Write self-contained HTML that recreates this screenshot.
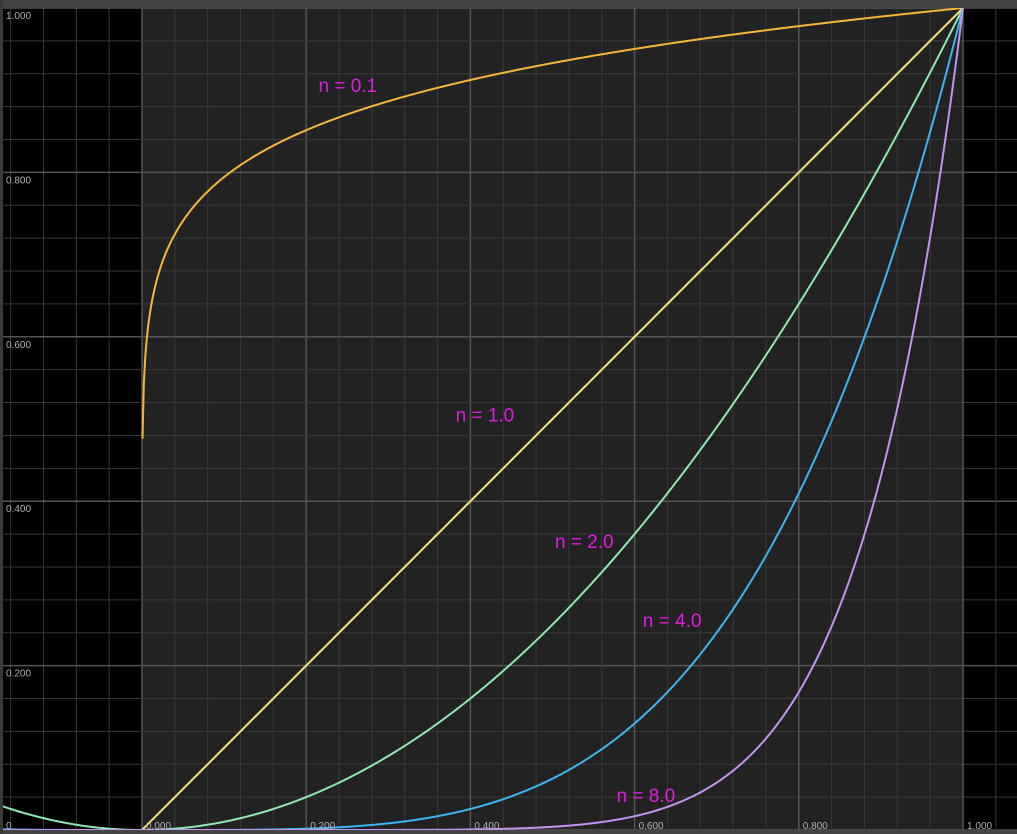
<!DOCTYPE html>
<html><head><meta charset="utf-8">
<style>
html,body{margin:0;padding:0;background:#000;}
svg{display:block;}
.tick{font-family:"Liberation Sans",sans-serif;font-size:10px;fill:#b0b0b0;}
.lbl{font-family:"Liberation Sans",sans-serif;font-size:19px;fill:#e01ce0;}
</style></head>
<body>
<svg id="chart" width="1017" height="834" viewBox="0 0 1017 834">
  <rect x="0" y="0" width="1017" height="834" fill="#000"/>
  <rect x="142" y="8" width="821" height="822" fill="#222"/>
  <g id="grid"></g>
  <g id="series"></g>
  <g id="ticks"></g>
  <g id="labels"></g>
  <rect x="0" y="0" width="1017" height="8" fill="#444"/>
  <rect x="0" y="830" width="1017" height="4" fill="#444"/>
  <rect x="0" y="0" width="3" height="834" fill="#3a3a3a"/>
</svg>
<script>
const exponents = [0.1, 1.0, 2.0, 4.0, 8.0];
const seriesColors = ["#f7b538", "#f4e47a", "#8ee8b0", "#3cb6f2", "#c194f2"];
const labelText = ["n = 0.1", "n = 1.0", "n = 2.0", "n = 4.0", "n = 8.0"];
const labelAt = [[0.215, 0.898], [0.382, 0.497], [0.503, 0.343], [0.61, 0.247], [0.578, 0.034]];
const xTickValues = [0, 0.2, 0.4, 0.6, 0.8, 1.0];
const xTickLabels = ["0.000", "0.200", "0.400", "0.600", "0.800", "1.000"];
const yTickValues = [0, 0.2, 0.4, 0.6, 0.8, 1.0];
const yTickLabels = ["0", "0.200", "0.400", "0.600", "0.800", "1.000"];

const NS = "http://www.w3.org/2000/svg";
const X0 = 142, XS = 821, Y0 = 830, YS = 822;
const sx = v => X0 + v * XS;
const sy = v => Y0 - v * YS;

const grid = document.getElementById('grid');
for (let k = -5; k <= 26; k++) {
  const v = k * 0.04;
  const major = k % 5 === 0;
  const xx = sx(v);
  if (xx >= 0 && xx <= 1017) {
    const l = document.createElementNS(NS, 'line');
    
    
    l.setAttribute('x1', xx); l.setAttribute('x2', xx);
    l.setAttribute('y1', 8); l.setAttribute('y2', 830);
    l.setAttribute('stroke', major ? '#555' : '#383838');
    l.setAttribute('stroke-width', major ? 1.5 : 1);
    grid.appendChild(l);
  }
  const yy = sy(v);
  if (k >= 0 && yy >= 8) {
    const h = document.createElementNS(NS, 'line');
    
    
    h.setAttribute('x1', 0); h.setAttribute('x2', 1017);
    h.setAttribute('y1', yy); h.setAttribute('y2', yy);
    h.setAttribute('stroke', major ? '#555' : '#383838');
    h.setAttribute('stroke-width', major ? 1.5 : 1);
    grid.appendChild(h);
  }
}

const series = document.getElementById('series');
exponents.forEach((n, i) => {
  const pts = [];
  const xmin = (n === 2 || n === 4 || n === 8) ? -0.175 : 0.0006;
  const N = 600;
  for (let j = 0; j <= N; j++) {
    const x = xmin + (1 - xmin) * j / N;
    const y = x < 0 ? Math.pow(-x, n) : Math.pow(x, n);
    pts.push(sx(x).toFixed(2) + ',' + sy(y).toFixed(2));
  }
  const p = document.createElementNS(NS, 'polyline');
  
  
  p.setAttribute('points', pts.join(' '));
  p.setAttribute('fill', 'none');
  p.setAttribute('stroke', seriesColors[i]);
  p.setAttribute('stroke-width', 2);
  series.appendChild(p);

  const t = document.createElementNS(NS, 'text');
  
  
  t.setAttribute('class', 'lbl');
  t.setAttribute('x', sx(labelAt[i][0]));
  t.setAttribute('y', sy(labelAt[i][1]));
  t.textContent = labelText[i];
  document.getElementById('labels').appendChild(t);
});

const ticks = document.getElementById('ticks');
xTickValues.forEach((v, i) => {
  const t = document.createElementNS(NS, 'text');
  
  
  t.setAttribute('class', 'tick');
  t.setAttribute('x', sx(v) + 4);
  t.setAttribute('y', 829);
  t.textContent = xTickLabels[i];
  ticks.appendChild(t);
});
yTickValues.forEach((v, i) => {
  const t = document.createElementNS(NS, 'text');
  
  
  t.setAttribute('class', 'tick');
  t.setAttribute('x', 6);
  t.setAttribute('y', v === 0 ? 829 : sy(v) + 11);
  t.textContent = yTickLabels[i];
  ticks.appendChild(t);
});
</script>
</body></html>
